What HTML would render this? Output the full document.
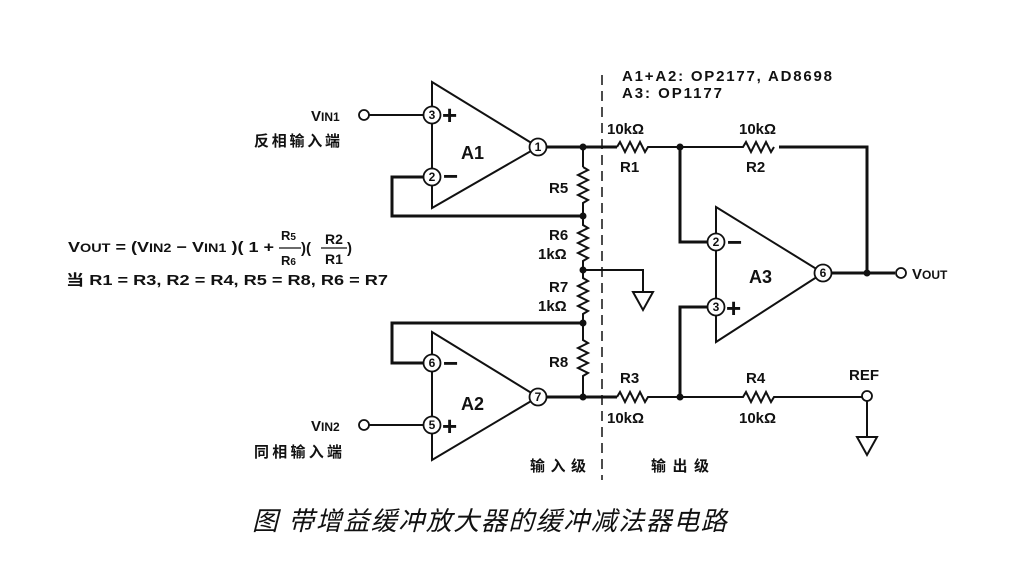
<!DOCTYPE html>
<html><head><meta charset="utf-8"><style>
html,body{margin:0;padding:0;background:#fff}
svg{display:block}
text{font-family:"Liberation Sans","Noto Sans CJK SC",sans-serif;font-weight:bold;fill:#111}
</style></head><body>
<svg width="1014" height="564" viewBox="0 0 1014 564" xmlns="http://www.w3.org/2000/svg">
<rect width="1014" height="564" fill="#fff"/>
<g stroke="#111" fill="none" stroke-width="2">
<path d="M432,82 L538,147 L432,208 Z"/>
<line x1="432" y1="115" x2="432" y2="177"/>
<path d="M432,332 L538,397 L432,460 Z"/>
<line x1="432" y1="363" x2="432" y2="425"/>
<path d="M716,207 L823,273 L716,342 Z"/>
<line x1="716" y1="242" x2="716" y2="307"/>
<line x1="368" y1="115" x2="424" y2="115"/>
<line x1="368" y1="425" x2="424" y2="425"/>
<path d="M424,177 L392,177 L392,216 L583,216" stroke-width="3"/>
<path d="M424,363 L392,363 L392,323 L583,323" stroke-width="3"/>
<path d="M546,147 L617,147" stroke-width="3"/>
<path d="M546,397 L617,397" stroke-width="3"/>
<line x1="583" y1="147" x2="583" y2="167"/>
<path d="M583,167 l5,3 l-10,5 l10,5 l-10,5 l10,5 l-10,5 l10,5 l-5,3 L583,225 l5,3 l-10,5 l10,5 l-10,5 l10,5 l-10,5 l10,5 l-5,3 L583,278 l5,3 l-10,5 l10,5 l-10,5 l10,5 l-10,5 l10,5 l-5,3 L583,340 l5,3 l-10,5 l10,5 l-10,5 l10,5 l-10,5 l10,5 l-5,3 L583,397"/>
<path d="M583,270 L643,270 L643,292"/>
<path d="M633,292 L653,292 L643,310 Z"/>
<path d="M617,147 l3,-5 l5,10 l5,-10 l5,10 l5,-10 l5,10 l3,-5 L743,147 l3,-5 l5,10 l5,-10 l5,10 l5,-10 l5,10 l3,-5"/>
<path d="M779,147 L867,147 L867,273" stroke-width="3"/>
<path d="M680,147 L680,242 L708,242" stroke-width="3"/>
<path d="M617,397 l3,-5 l5,10 l5,-10 l5,10 l5,-10 l5,10 l3,-5 L743,397 l3,-5 l5,10 l5,-10 l5,10 l5,-10 l5,10 l3,-5 L862,397"/>
<path d="M680,397 L680,307 L708,307" stroke-width="3"/>
<path d="M831,273 L895,273" stroke-width="3"/>
<line x1="867" y1="400" x2="867" y2="437"/>
<path d="M857,437 L877,437 L867,455 Z"/>
<line x1="602" y1="75" x2="602" y2="480" stroke-width="1.5" stroke-dasharray="10,6"/>
</g>
<g fill="#111">
<circle cx="583" cy="147" r="3.5"/><circle cx="583" cy="216" r="3.5"/><circle cx="583" cy="270" r="3.5"/>
<circle cx="583" cy="323" r="3.5"/><circle cx="583" cy="397" r="3.5"/>
<circle cx="680" cy="147" r="3.5"/><circle cx="680" cy="397" r="3.5"/><circle cx="867" cy="273" r="3.5"/>
</g>
<g stroke="#111" stroke-width="1.8" fill="#fff">
<circle cx="364" cy="115" r="5"/><circle cx="364" cy="425" r="5"/>
<circle cx="901" cy="273" r="5"/><circle cx="867" cy="396" r="5"/>
<circle cx="432" cy="115" r="8.5"/><circle cx="432" cy="177" r="8.5"/><circle cx="538" cy="147" r="8.5"/>
<circle cx="432" cy="363" r="8.5"/><circle cx="432" cy="425" r="8.5"/><circle cx="538" cy="397" r="8.5"/>
<circle cx="716" cy="242" r="8.5"/><circle cx="716" cy="307" r="8.5"/><circle cx="823" cy="273" r="8.5"/>
</g>
<g font-size="12" text-anchor="middle" style="font-weight:normal">
<text x="432" y="119">3</text><text x="432" y="181">2</text><text x="538" y="151">1</text>
<text x="432" y="367">6</text><text x="432" y="429">5</text><text x="538" y="401">7</text>
<text x="716" y="246">2</text><text x="716" y="311">3</text><text x="823" y="277">6</text>
</g>
<g font-size="26">
<text x="442" y="124">+</text><text x="443" y="185">−</text>
<text x="443" y="372">−</text><text x="442" y="435">+</text>
<text x="727" y="251">−</text><text x="726" y="317">+</text>
</g>
<g font-size="18">
<text x="461" y="159">A1</text><text x="461" y="410">A2</text><text x="749" y="283">A3</text>
</g>
<g font-size="15">
<text x="311" y="121">V<tspan font-size="12">IN1</tspan></text>
<text x="311" y="431">V<tspan font-size="12">IN2</tspan></text>
<text x="912" y="279">V<tspan font-size="12">OUT</tspan></text>
<text x="254" y="146" textLength="86">反相输入端</text>
<text x="254" y="457" textLength="88">同相输入端</text>
<text x="622" y="81" textLength="210">A1+A2: OP2177, AD8698</text>
<text x="622" y="98" textLength="100">A3: OP1177</text>
<text x="607" y="134">10kΩ</text><text x="620" y="172">R1</text>
<text x="739" y="134">10kΩ</text><text x="746" y="172">R2</text>
<text x="620" y="383">R3</text><text x="607" y="423">10kΩ</text>
<text x="746" y="383">R4</text><text x="739" y="423">10kΩ</text>
<text x="849" y="380">REF</text>
<text x="549" y="193">R5</text>
<text x="549" y="240">R6</text><text x="538" y="259">1kΩ</text>
<text x="549" y="292">R7</text><text x="538" y="311">1kΩ</text>
<text x="549" y="367">R8</text>
<text x="530" y="471" textLength="56">输入级</text><text x="651" y="471" textLength="58">输出级</text>
<text x="68" y="252" textLength="206" lengthAdjust="spacingAndGlyphs">V<tspan font-size="12">OUT</tspan> = (V<tspan font-size="12">IN2</tspan> − V<tspan font-size="12">IN1</tspan> )( 1 +</text>
<text x="281" y="240" font-size="13">R<tspan font-size="10">5</tspan></text>
<text x="281" y="265" font-size="13">R<tspan font-size="10">6</tspan></text>
<text x="301" y="253">)(</text>
<text x="325" y="244" font-size="14">R2</text>
<text x="325" y="264" font-size="14">R1</text>
<text x="347" y="253">)</text>
<text x="66" y="285" textLength="322" lengthAdjust="spacingAndGlyphs">当 R1 = R3, R2 = R4, R5 = R8, R6 = R7</text>
</g>
<line x1="279" y1="248" x2="301" y2="248" stroke="#111" stroke-width="1.2"/>
<line x1="321" y1="248" x2="347" y2="248" stroke="#111" stroke-width="1.2"/>
<text x="252" y="530" font-size="26" style="font-weight:normal;font-style:italic" letter-spacing="1.5">图 带增益缓冲放大器的缓冲减法器电路</text>
</svg>
</body></html>
